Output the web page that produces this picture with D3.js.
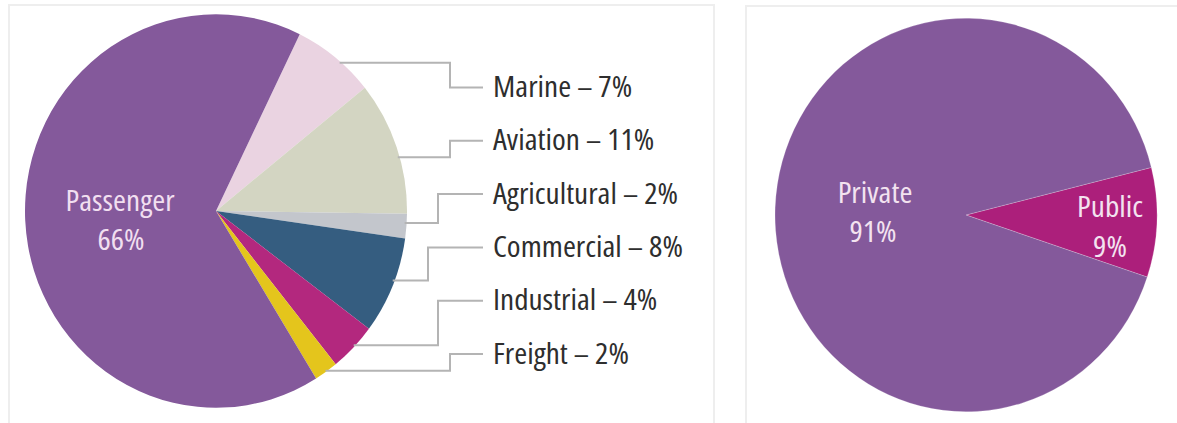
<!DOCTYPE html>
<html>
<head>
<meta charset="utf-8">
<script src="https://cdn.jsdelivr.net/npm/d3@7"></script>
<style>
  html, body { margin: 0; padding: 0; background: #fff; }
  svg { display: block; }
  .lbl { font-family: "Open Sans", "Liberation Sans", "DejaVu Sans", sans-serif; font-stretch: 87.5%; }
</style>
</head>
<body>
<svg id="chart" width="1177" height="423"></svg>
<script>
// Vehicle use by segment (clockwise from the Marine slice)
const segments = ["Marine", "Aviation", "Agricultural", "Commercial", "Industrial", "Freight", "Passenger"];
const segmentShares = [7, 11, 2, 8, 4, 2, 66];
const segmentColors = ["#ead3e1", "#d3d5c2", "#c3c6cc", "#355d80", "#b3287e", "#e4c51c", "#84599b"];

// Ownership split
const owners = ["Public", "Private"];
const ownerShares = [9, 91];
const ownerColors = ["#ac1f7b", "#84599b"];

const svg = d3.select("#chart");

// panel frames
svg.append("rect").attr("x", 9).attr("y", 5).attr("width", 705).attr("height", 430)
  .attr("fill", "none").attr("stroke", "#eeeeee").attr("stroke-width", 2);
svg.append("rect").attr("x", 746).attr("y", 6).attr("width", 450).attr("height", 430)
  .attr("fill", "none").attr("stroke", "#eeeeee").attr("stroke-width", 2);

const R = 191, SY = 1.03;
const deg = Math.PI / 180;
const FONT = 29;

// condensed text: each label is squeezed horizontally around its anchor point
const texts = [];
function label(parent, x, y, str, fill, anchor) {
  const g = parent.append("g").attr("data-x", x).attr("data-y", y);
  g.append("text").attr("class", "lbl")
    .attr("text-anchor", anchor || "start")
    .attr("font-size", FONT).attr("fill", fill).text(str);
  texts.push(g);
  return g;
}

// ---- left pie ----
const leftCx = 216, leftCy = 211;
const pieL = d3.pie().sort(null).value(d => d)
  .startAngle(26 * deg).endAngle(26 * deg + 2 * Math.PI);
const arcsL = pieL(segmentShares);
const arc = d3.arc().innerRadius(0).outerRadius(R);

const gL = svg.append("g").attr("transform", `translate(${leftCx},${leftCy}) scale(1,${SY})`);
gL.selectAll("path").data(arcsL).join("path")
  .attr("d", arc)
  .attr("fill", (d, i) => segmentColors[i]);

// leader lines and labels for the small segments
const labelX = 493, labelY0 = 97, labelStep = 53.3;
const elbowX = [450, 450, 438, 428, 438, 450];
const anchorT = [0.6, 0.58, 0.37, 0.44, 0.43, 0.43];
const lineGap = 10;
const leaders = svg.append("g");
let measureG = null;
arcsL.slice(0, 6).forEach((d, i) => {
  const a = d.startAngle + anchorT[i] * (d.endAngle - d.startAngle);
  const sx = leftCx + R * Math.sin(a);
  const sy = leftCy - R * SY * Math.cos(a);
  const ty = labelY0 + i * labelStep - 9.5;
  leaders.append("path")
    .attr("d", `M${sx - 2},${sy}H${elbowX[i]}V${ty}H${labelX - lineGap}`)
    .attr("fill", "none").attr("stroke", "#b4b4b4").attr("stroke-width", 2);
  const g = label(leaders, labelX, labelY0 + i * labelStep,
    `${segments[i]} – ${segmentShares[i]}%`, "#2e2e2e");
  if (segments[i] === "Agricultural") measureG = g;
});

// label inside the largest slice
label(svg, 120, 211, segments[6], "#f1dff0", "middle");
label(svg, 121, 250, `${segmentShares[6]}%`, "#f1dff0", "middle");

// ---- right pie ----
const rightCx = 966, rightCy = 215;
const pieR = d3.pie().sort(null).value(d => d)
  .startAngle(76 * deg).endAngle(76 * deg + 2 * Math.PI);
const arcsR = pieR(ownerShares);
const gR = svg.append("g").attr("transform", `translate(${rightCx},${rightCy}) scale(1,${SY})`);
gR.selectAll("path").data(arcsR).join("path")
  .attr("d", arc)
  .attr("fill", (d, i) => ownerColors[i])
  .attr("stroke", "rgba(255,255,255,0.35)").attr("stroke-width", 0.6);

label(svg, 1110, 217, owners[0], "#f3e3f0", "middle");
label(svg, 1110, 257, `${ownerShares[0]}%`, "#f3e3f0", "middle");
label(svg, 875, 203, owners[1], "#f3e3f0", "middle");
label(svg, 873, 242, `${ownerShares[1]}%`, "#f3e3f0", "middle");

// the set width of the longest-running label fixes the squeeze for all text
const measured = measureG.select("text").node().getComputedTextLength();
const k = Math.max(0.8, Math.min(1.15, 185 / measured));
texts.forEach(g => {
  g.attr("transform", `translate(${g.attr("data-x")},${g.attr("data-y")}) scale(${k},1)`);
});
</script>
</body>
</html>
